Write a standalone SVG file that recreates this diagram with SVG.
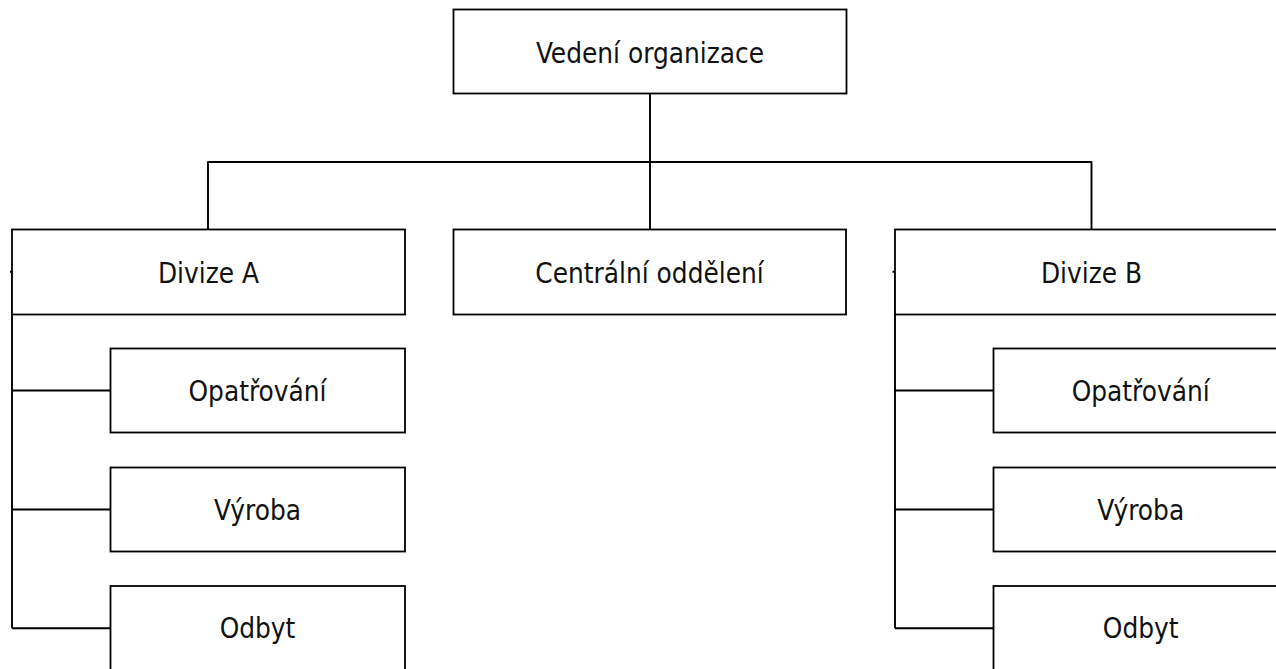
<svg xmlns="http://www.w3.org/2000/svg" width="1276" height="669" viewBox="0 0 1276 669">
<style>
.box{fill:#fff;stroke:#000;stroke-width:1.8}
.lbl{font-family:"DejaVu Sans Condensed","DejaVu Sans",sans-serif;font-size:27.7px;fill:#111;text-anchor:middle}
.con{fill:none;stroke:#000;stroke-width:1.9}
</style>
<rect width="1276" height="669" fill="#fff"/>
<g id="connectors">
<path class="con" d="M650 94V229.5M208 162H1091.5M208 161.2V229.5M1091.5 161.2V229.5"/>
<path class="con" d="M10 271.7H12.5M12 271.7V628.3M12 390.5H110.5M12 509.5H112.7M12 628.3H110.5"/>
<path class="con" d="M892.5 271.7H895.5M895 271.7V628.3M895 390.5H993.5M895 509.5H995.7M895 628.3H993.5"/>
</g>
<g id="vedeni"><rect class="box" x="453.5" y="9.5" width="393" height="84"/><text class="lbl" x="650" y="63.3">Vedení organizace</text></g>
<g id="divizeA"><rect class="box" x="12" y="229.5" width="393" height="85"/><text class="lbl" x="208.5" y="283">Divize A</text></g>
<g id="centralni"><rect class="box" x="453.5" y="229.5" width="392.5" height="85"/><text class="lbl" x="649.5" y="283.3">Centrální oddělení</text></g>
<g id="divizeB"><rect class="box" x="895" y="229.5" width="393" height="85"/><text class="lbl" x="1091.5" y="283">Divize B</text></g>
<g id="opatrovaniA"><rect class="box" x="110.5" y="348.5" width="294.5" height="84"/><text class="lbl" x="257.5" y="400.7">Opatřování</text></g>
<g id="vyrobaA"><rect class="box" x="110.5" y="467.5" width="294.5" height="84"/><text class="lbl" x="257.5" y="520">Výroba</text></g>
<g id="odbytA"><rect class="box" x="110.5" y="586" width="294.5" height="90"/><text class="lbl" x="257.5" y="638.3">Odbyt</text></g>
<g id="opatrovaniB"><rect class="box" x="993.5" y="348.5" width="295" height="84"/><text class="lbl" x="1140.7" y="400.7">Opatřování</text></g>
<g id="vyrobaB"><rect class="box" x="993.5" y="467.5" width="295" height="84"/><text class="lbl" x="1140.7" y="520">Výroba</text></g>
<g id="odbytB"><rect class="box" x="993.5" y="586" width="295" height="90"/><text class="lbl" x="1140.7" y="638.3">Odbyt</text></g>
</svg>
